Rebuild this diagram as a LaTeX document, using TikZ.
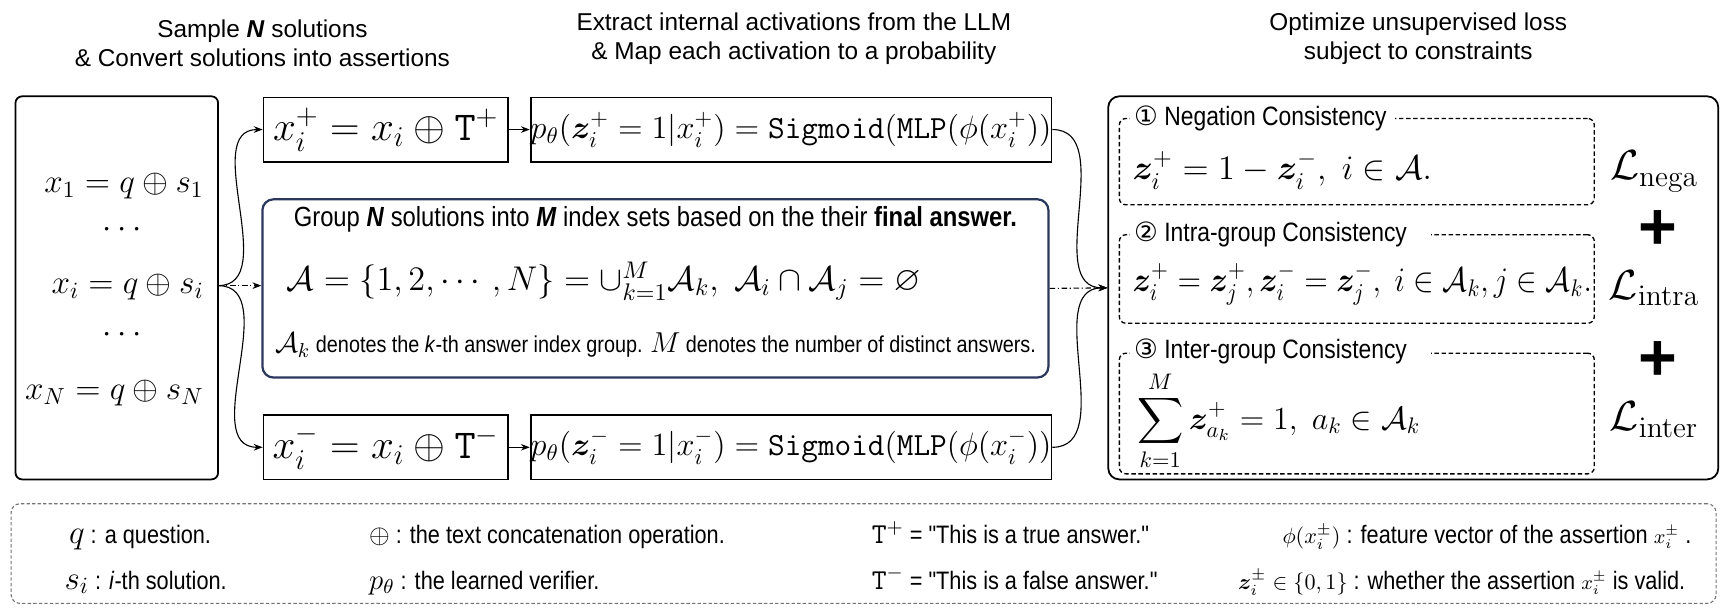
\RequirePackage{fix-cm}
\documentclass[tikz,border=0pt]{standalone}
\usepackage{amsmath,amssymb,bm}
\usepackage[no-math]{fontspec}
\setmainfont{Liberation Sans}
\newfontfamily\narrow{Liberation Sans}[FakeStretch=0.86]
\newfontfamily\dejavu{DejaVu Sans}
\usetikzlibrary{arrows.meta}
\definecolor{navy}{RGB}{42,56,92}
\newcommand\fsz[1]{\fontsize{#1}{#1}\selectfont}
\begin{document}
\begin{tikzpicture}[x=0.5pt,y=-0.5pt,
  box/.style={draw, line width=0.8pt, inner sep=0pt},
  dbox/.style={draw, line width=0.6pt, dash pattern=on 2pt off 1.2pt, rounded corners=3pt, inner sep=0pt},
  arr/.style={-{Stealth[length=4pt,width=3pt]}, line width=0.5pt},
  dd/.style={arr, dash pattern=on 2.5pt off 1.2pt on 0.5pt off 1.2pt},
  ttl/.style={align=center, font=\fontsize{11}{13}\selectfont},
  ptitle/.style={anchor=west, fill=white, inner xsep=2pt, inner ysep=0pt, font=\narrow\fsz{12}},
  leg/.style={anchor=base west, inner sep=0pt, font=\narrow\fsz{11.4}},
  bigL/.style={font=\fsz{19}},
  plus/.style={font=\fontsize{30}{30}\selectfont\bfseries}
]
\useasboundingbox (0,0) rectangle (1568,556);

% titles
\node[ttl] (t1) at (237,39) {Sample \textbf{\textit{N}} solutions\\ \& Convert solutions into assertions};
\node[ttl] (t2) at (717,35) {Extract internal activations from the LLM\\ \& Map each activation to a probability};
\node[ttl] (t3) at (1281,35) {Optimize unsupervised loss\\ subject to constraints};

% left box
\node[box, rounded corners=3pt, minimum width=91.5pt, minimum height=173pt] (L) at (105.5,260) {};
\node[anchor=east, font=\fsz{15}] (x1) at (191,168) {$x_1 = q \oplus s_1$};
\node[font=\fsz{15}] (d1) at (113,208) {$\cdots$};
\node[anchor=east, font=\fsz{15}] (xi) at (191,259) {$x_i = q \oplus s_i$};
\node[font=\fsz{15}] (d2) at (113,303) {$\cdots$};
\node[anchor=east, font=\fsz{15}] (xN) at (191,355) {$x_N = q \oplus s_N$};
\coordinate (src) at (197,258);

% assertion boxes
\node[box, minimum width=110.5pt, minimum height=29pt, font=\fsz{18.5}] (Xp) at (348.5,117) {$x_i^+ = x_i \oplus \mathtt{T}^+$};
\node[box, minimum width=110.5pt, minimum height=29pt, font=\fsz{18.5}] (Xm) at (348.5,404) {$x_i^- = x_i \oplus \mathtt{T}^-$};

% sigmoid boxes
\node[box, minimum width=233.5pt, minimum height=29pt, font=\fsz{14.6}] (Sp) at (714.5,117) {$p_\theta(\bm{z}_i^+ = 1|x_i^+) = \mathtt{Sigmoid}(\mathtt{MLP}(\phi(x_i^+))$};
\node[box, minimum width=233.5pt, minimum height=29pt, font=\fsz{14.6}] (Sm) at (714.5,404) {$p_\theta(\bm{z}_i^- = 1|x_i^-) = \mathtt{Sigmoid}(\mathtt{MLP}(\phi(x_i^-))$};

% group box
\node[box, draw=navy, line width=1pt, rounded corners=5pt, minimum width=355pt, minimum height=80.5pt] (G) at (592,260.5) {};
\node[font=\narrow\fsz{12.5}] (gt) at (592,198) {Group \textbf{\textit{N}} solutions into \textbf{\textit{M}} index sets based on the their \textbf{final answer.}};
\node[anchor=west, font=\fsz{15.5}] (gf) at (252,254) {$\mathcal{A} = \{1,2,\cdots,N\} = \cup_{k=1}^{M}\mathcal{A}_k,\ \mathcal{A}_i \cap \mathcal{A}_j = \varnothing$};
\node[font=\narrow\fsz{10.4}] (gn) at (592,312) {{\fsz{13}$\mathcal{A}_k$} denotes the \textit{k}-th answer index group. {\fsz{13}$M$} denotes the number of distinct answers.};

% right box
\node[box, rounded corners=5pt, minimum width=275.5pt, minimum height=173pt] (R) at (1276.5,260) {};
\coordinate (dst) at (R.west);
\node[dbox, minimum width=214.5pt, minimum height=39pt] (D1) at (1225.5,146) {};
\node[dbox, minimum width=214.5pt, minimum height=40pt] (D2) at (1225.5,252) {};
\node[dbox, minimum width=214.5pt, minimum height=54.5pt] (D3) at (1225.5,373.5) {};
\node[ptitle] (P1) at (1020,107) {{\dejavu ①} Negation Consistency\kern2pt};
\node[ptitle] (P2) at (1020,212) {{\dejavu ②} Intra-group Consistency\kern9pt};
\node[ptitle] (P3) at (1020,317) {{\dejavu ③} Inter-group Consistency\kern9pt};
\node[anchor=west, font=\fsz{15.5}] (f1) at (1016,154) {$\bm{z}_i^+ = 1 - \bm{z}_i^-,\ i \in \mathcal{A}.$};
\node[anchor=west, font=\fsz{15.5}] (f2) at (1016,257) {\scalebox{0.9}[1]{$\bm{z}_i^+ = \bm{z}_j^+, \bm{z}_i^- = \bm{z}_j^-,\ i \in \mathcal{A}_k, j \in \mathcal{A}_k.$}};
\node[anchor=west, font=\fsz{14.5}] (f3) at (1020,380) {$\displaystyle\sum_{k=1}^{M} \bm{z}_{a_k}^+ = 1,\ a_k \in \mathcal{A}_k$};
\node[bigL] (Ln) at (1494,155) {$\mathcal{L}_{\mathrm{nega}}$};
\node[plus] (pl1) at (1497,208) {+};
\node[bigL] (Li) at (1494,260) {$\mathcal{L}_{\mathrm{intra}}$};
\node[plus] (pl2) at (1497,326) {+};
\node[bigL] (Le) at (1494,379) {$\mathcal{L}_{\mathrm{inter}}$};

% connectors
\draw[arr] (src) to[out=0,in=180] (Xp.west);
\draw[arr] (src) to[out=0,in=180] (Xm.west);
\draw[dd] (src) -- (src -| G.west);
\draw[arr] (Xp) -- (Sp);
\draw[arr] (Xm) -- (Sm);
\draw[arr] (Sp.east) to[out=0,in=180] (dst);
\draw[arr] (Sm.east) to[out=0,in=180] (dst);
\draw[dd] (G.east) -- (dst);

% legend
\node[draw=black!55, line width=0.5pt, dash pattern=on 1.5pt off 1pt, rounded corners=4pt, minimum width=770pt, minimum height=45pt, inner sep=0pt] (Leg) at (780,500) {};
\node[leg] (lq) at (62,491) {{\fsz{15}$q$} : a question.};
\node[leg] (ls) at (58,532) {{\fsz{15}$s_i$} : \textit{i}-th solution.};
\node[leg] (lo) at (333,491) {{\fsz{12}$\oplus$} : the text concatenation operation.};
\node[leg] (lp) at (333,532) {{\fsz{13}$p_\theta$} : the learned verifier.};
\node[leg] (lt) at (787,491) {{\fsz{13}$\mathtt{T}^+$} = "This is a true answer."};
\node[leg] (lf) at (787,532) {{\fsz{13}$\mathtt{T}^-$} = "This is a false answer."};
\node[leg] (lphi) at (1158,491) {{\fsz{10}$\phi(x_i^\pm)$} : feature vector of the assertion {\fsz{9}$x_i^\pm$} .};
\node[leg] (lz) at (1118,532) {{\fsz{10}$\bm{z}_i^\pm \in \{0,1\}$} : whether the assertion {\fsz{9}$x_i^\pm$} is valid.};
\end{tikzpicture}
\end{document}
